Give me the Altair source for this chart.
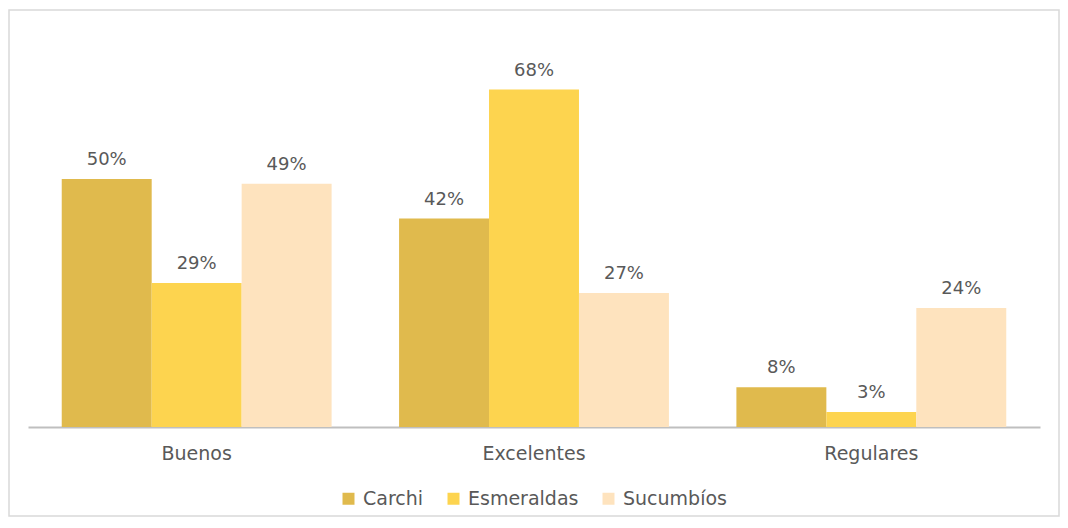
import altair as alt
import pandas as pd

categories = ["Buenos", "Excelentes", "Regulares"]
series = ["Carchi", "Esmeraldas", "Sucumbíos"]
carchi = [50, 42, 8]
esmeraldas = [29, 68, 3]
sucumbios = [49, 27, 24]
colors = ["#E0BA4D", "#FDD44F", "#FEE3BE"]

rows = []
for name, vals in zip(series, [carchi, esmeraldas, sucumbios]):
    for c, v in zip(categories, vals):
        rows.append({"cat": c, "serie": name, "val": v, "lbl": f"{v}%"})
df = pd.DataFrame(rows)

FONT = "DejaVu Sans"
TXT = "#595959"
W, H = 1012, 397

base = alt.Chart(df).encode(
    x=alt.X("cat:N", sort=categories, title=None,
            scale=alt.Scale(paddingInner=0.2, paddingOuter=0.1),
            axis=alt.Axis(labelAngle=0, labelFontSize=19, labelColor=TXT, labelFont=FONT,
                          labelPadding=17, ticks=False, domainColor="#BFBFBF",
                          domainWidth=2)),
    xOffset=alt.XOffset("serie:N", sort=series, scale=alt.Scale(paddingInner=0, paddingOuter=0)),
    y=alt.Y("val:Q", axis=None, scale=alt.Scale(domain=[0, 80], nice=False, zero=True)),
)

bars = base.mark_bar().encode(
    color=alt.Color("serie:N", sort=series,
                    scale=alt.Scale(domain=series, range=colors),
                    legend=alt.Legend(title=None, orient="none", direction="horizontal",
                                      legendX=311, legendY=459, symbolType="square",
                                      symbolSize=144, symbolStrokeWidth=0,
                                      labelFontSize=19, labelColor=TXT, labelFont=FONT,
                                      labelOffset=5, columnPadding=20))
)

labels = base.mark_text(baseline="alphabetic", dy=-14, fontSize=18, font=FONT, color=TXT).encode(
    text="lbl:N"
)

border = alt.Chart(pd.DataFrame({"a": [0]})).mark_rect(
    fill="transparent", stroke="#D9D9D9", strokeWidth=1.5
).encode(
    x=alt.value(-19), x2=alt.value(W + 19), y=alt.value(-20), y2=alt.value(H + 89)
)

chart = alt.layer(border, bars, labels).properties(
    width=W, height=H,
    padding={"left": 20, "top": 22, "right": 20, "bottom": 93},
    autosize=alt.AutoSizeParams(type="none"),
    background="white",
).configure_view(strokeWidth=0, stroke="transparent")

chart.save("out.html", embed_options={"renderer": "svg", "actions": False})
